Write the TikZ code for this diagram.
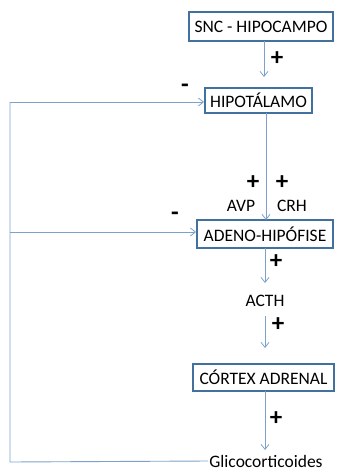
\documentclass[tikz,border=0pt]{standalone}
\usepackage{fontspec}
\setmainfont{Carlito}
\usetikzlibrary{arrows.meta,calc}
\definecolor{boxc}{HTML}{41719C}
\definecolor{linec}{HTML}{7EA1CB}
\tikzset{
  box/.style={draw=boxc, line width=2pt, fill=white, inner sep=2pt, font=\fontsize{17.5}{19}\selectfont},
  lbl/.style={inner sep=1pt, font=\fontsize{17.5}{19}\selectfont},
  sign/.style={inner sep=0pt, font=\fontsize{25}{26}\selectfont\bfseries},
  ln/.style={draw=linec, line width=0.9pt},
  arr/.style={ln, -{Straight Barb[length=5pt,width=8pt,line width=0.8pt]}}
}
\begin{document}
\begin{tikzpicture}[x=1pt,y=-1pt]
\useasboundingbox (0,0) rectangle (338,470);
% nodes
\node[box, minimum width=144pt, minimum height=29pt] (snc) at (261,26.5) {SNC - HIPOCAMPO};
\node[box, minimum width=107pt, minimum height=25pt] (hip) at (258.5,100.5) {HIPOTÁLAMO};
\node[box, minimum width=136pt, minimum height=28pt] (ade) at (265,234) {ADENO-HIPÓFISE};
\node[lbl] (acth) at (265,301) {ACTH};
\node[box, minimum width=141pt, minimum height=27pt] (cor) at (263.5,377.5) {CÓRTEX ADRENAL};
\node[lbl] (gli) at (266,461) {Glicocorticoides};
\node[lbl] (avp) at (241,206) {AVP};
\node[lbl] (crh) at (292,206) {CRH};
% signs
\node[sign] (p1) at (277,59) {+};
\node[sign] (p2) at (253,183) {+};
\node[sign] (p3) at (282,183) {+};
\node[sign] (p4) at (276,262) {+};
\node[sign] (p5) at (278,325) {+};
\node[sign] (p6) at (276,419) {+};
\node[sign] (m1) at (185,88) {-};
\node[sign] (m2) at (175,216) {-};
% column coordinates
\coordinate (c1a) at (264,41);
\coordinate (c1b) at (264,77);
\coordinate (c2a) at (266,113);
\coordinate (c2b) at (266,220);
\coordinate (c3a) at (265,248);
\coordinate (c3b) at (265,283);
\coordinate (c4a) at (265,316);
\coordinate (c4b) at (265,348);
\coordinate (c5a) at (265,391);
\coordinate (c5b) at (265,450);
\coordinate (fbt) at (10,102);
\coordinate (fbm) at (10,232);
\coordinate (fbb) at (10,462);
% connectors
\draw[arr] (c1a) -- (c1b);
\draw[arr] (c2a) -- (c2b);
\draw[arr] (c3a) -- (c3b);
\draw[arr] (c4a) -- (c4b);
\draw[arr] (c5a) -- (c5b);
\draw[ln] (gli.west) -- (fbb) -- (fbt);
\draw[arr] (fbt) -- (fbt -| hip.west);
\draw[arr] (fbm) -- (fbm -| ade.west);
\end{tikzpicture}
\end{document}
